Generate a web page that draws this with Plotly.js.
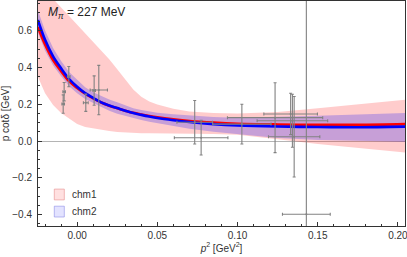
<!DOCTYPE html>
<html>
<head>
<meta charset="utf-8">
<script src="https://cdn.plot.ly/plotly-3.0.1.min.js"></script>
<style>html,body{margin:0;padding:0;background:#fff;}#chart{width:407px;height:257px;}</style>
</head>
<body>
<div id="chart"></div>
<script>
// p^2 grid (GeV^2)
const p2 = [-0.0245, -0.02, -0.015, -0.01, -0.005, 0, 0.005, 0.01, 0.015, 0.02, 0.025, 0.03, 0.035, 0.04, 0.045, 0.05, 0.06, 0.07, 0.085, 0.1, 0.125, 0.15, 0.175, 0.2045];
// chm1 central curve (red) and band
const chm1Mid = [0.62, 0.525, 0.44, 0.38, 0.325, 0.288, 0.257, 0.232, 0.209, 0.192, 0.178, 0.165, 0.153, 0.144, 0.136, 0.129, 0.118, 0.109, 0.1, 0.094, 0.09, 0.088, 0.088, 0.092];
const chm1Hi  = [0.865, 0.82, 0.775, 0.725, 0.68, 0.633, 0.588, 0.543, 0.495, 0.445, 0.39, 0.335, 0.28, 0.24, 0.215, 0.198, 0.175, 0.16, 0.152, 0.15, 0.158, 0.178, 0.198, 0.224];
const chm1Lo  = [0.35, 0.26, 0.196, 0.152, 0.12, 0.092, 0.076, 0.066, 0.06, 0.054, 0.049, 0.046, 0.043, 0.042, 0.042, 0.042, 0.042, 0.041, 0.038, 0.034, 0.01, -0.016, -0.038, -0.062];
// chm2 central curve (blue) and band
const chm2Mid = [0.658, 0.55, 0.46, 0.395, 0.337, 0.295, 0.26, 0.234, 0.21, 0.193, 0.179, 0.165, 0.152, 0.142, 0.133, 0.125, 0.113, 0.103, 0.092, 0.085, 0.079, 0.076, 0.075, 0.078];
const chm2Hi  = [0.71, 0.60, 0.505, 0.435, 0.375, 0.332, 0.292, 0.265, 0.245, 0.226, 0.21, 0.195, 0.178, 0.168, 0.16, 0.154, 0.145, 0.138, 0.131, 0.127, 0.13, 0.137, 0.144, 0.152];
const chm2Lo  = [0.59, 0.49, 0.41, 0.352, 0.298, 0.26, 0.228, 0.204, 0.185, 0.165, 0.148, 0.135, 0.124, 0.114, 0.104, 0.095, 0.08, 0.066, 0.05, 0.036, 0.017, 0.006, 0.0, -0.004];
// lattice data points
const dataX  = [-0.0081, -0.0087, -0.0052, 0.0054, 0.0106, 0.0135, 0.0733, 0.0773, 0.1027, 0.1234, 0.1331, 0.1342, 0.1353, 0.1429];
const dataY  = [0.268, 0.201, 0.35, 0.208, 0.274, 0.277, 0.102, 0.018, 0.092, 0.127, 0.147, 0.110, 0.023, -0.398];
const dataEx = [0.0008, 0.0008, 0.0008, 0.0015, 0.0008, 0.0054, 0.0111, 0.0167, 0.0182, 0.0297, 0.0167, 0.022, 0.016, 0.0149];
const dataEy = [0.05, 0.05, 0.055, 0.047, 0.08, 0.134, 0.118, 0.094, 0.108, 0.19, 0.1125, 0.144, 0.219, 1.3];
const xTicks = [0, 0.05, 0.10, 0.15, 0.20];
const xTickText = ["0.00", "0.05", "0.10", "0.15", "0.20"];
const yTicks = [-0.4, -0.2, 0, 0.2, 0.4, 0.6];
const yTickText = ["\u22120.4", "\u22120.2", "0.0", "0.2", "0.4", "0.6"];
const legendNames = ["chm1", "chm2"];

function band(hi, lo) {
  return {
    x: p2.concat(p2.slice().reverse()),
    y: hi.concat(lo.slice().reverse())
  };
}
const b1 = band(chm1Hi, chm1Lo);
const b2 = band(chm2Hi, chm2Lo);

const traces = [
  {x: b1.x, y: b1.y, type: 'scatter', mode: 'lines', fill: 'toself',
   fillcolor: 'rgba(255,0,0,0.2)', line: {width: 0}, hoverinfo: 'skip', showlegend: false},
  {x: b2.x, y: b2.y, type: 'scatter', mode: 'lines', fill: 'toself',
   fillcolor: 'rgba(0,0,255,0.22)', line: {width: 0}, hoverinfo: 'skip', showlegend: false},
  {x: p2, y: chm1Mid, type: 'scatter', mode: 'lines', line: {color: '#ff0000', width: 2.6, shape: 'spline'}, showlegend: false},
  {x: p2, y: chm2Mid, type: 'scatter', mode: 'lines', line: {color: '#0000ff', width: 2.6, shape: 'spline'}, showlegend: false},
  {x: dataX, y: dataY, type: 'scatter', mode: 'markers',
   marker: {size: 2, color: 'rgb(130,130,130)'},
   error_x: {type: 'data', array: dataEx, color: 'rgb(130,130,130)', thickness: 1.1, width: 1.5},
   error_y: {type: 'data', array: dataEy, color: 'rgb(130,130,130)', thickness: 1.1, width: 1.5},
   showlegend: false}
];

const layout = {
  width: 407, height: 257,
  margin: {l: 38, r: 2, t: 1, b: 31},
  paper_bgcolor: '#fff', plot_bgcolor: '#fff',
  font: {family: 'Liberation Sans, Arial, sans-serif', size: 10, color: '#333'},
  xaxis: {
    range: [-0.0244, 0.2044], showgrid: false, zeroline: false,
    showline: true, mirror: true, linecolor: '#333', linewidth: 1,
    ticks: 'inside', ticklen: 4, tickcolor: '#333', tickwidth: 1,
    tickvals: xTicks, ticktext: xTickText, ticklabeloverflow: 'allow',
    minor: {dtick: 0.01, tick0: 0, ticks: 'inside', ticklen: 2, tickcolor: '#333', showgrid: false},
    title: {text: '<i>p</i><sup>2</sup> [GeV<sup>2</sup>]', font: {size: 10, color: '#333'}, standoff: 4}
  },
  yaxis: {
    range: [-0.462, 0.761], showgrid: false,
    zeroline: true, zerolinecolor: '#b4b4b4', zerolinewidth: 1,
    showline: true, mirror: true, linecolor: '#333', linewidth: 1,
    ticks: 'inside', ticklen: 4, tickcolor: '#333', tickwidth: 1,
    tickvals: yTicks, ticktext: yTickText, ticklabelstandoff: 3,
    minor: {dtick: 0.05, tick0: 0, ticks: 'inside', ticklen: 2, tickcolor: '#333', showgrid: false},
    title: {text: 'p cot\u03b4 [GeV]', font: {size: 10, color: '#333'}, standoff: 7}
  },
  shapes: [
    {type: 'rect', xref: 'paper', yref: 'paper', x0: 0.0444, x1: 0.0717, y0: 0.116, y1: 0.164,
     fillcolor: 'rgba(255,0,0,0.12)', line: {color: 'rgba(230,140,140,0.6)', width: 1}},
    {type: 'rect', xref: 'paper', yref: 'paper', x0: 0.0444, x1: 0.0717, y0: 0.04, y1: 0.088,
     fillcolor: 'rgba(0,0,255,0.11)', line: {color: 'rgba(140,140,230,0.6)', width: 1}}
  ],
  annotations: [
    {xref: 'paper', yref: 'paper', x: 0.022, y: 0.945, xanchor: 'left', yanchor: 'middle', showarrow: false,
     text: '<i>M</i><sub><i>\u03c0</i></sub> = 227 MeV', font: {size: 12, color: '#222'}},
    {xref: 'paper', yref: 'paper', x: 0.087, y: 0.14, xanchor: 'left', yanchor: 'middle', showarrow: false,
     text: legendNames[0], font: {size: 10, color: '#333'}},
    {xref: 'paper', yref: 'paper', x: 0.087, y: 0.064, xanchor: 'left', yanchor: 'middle', showarrow: false,
     text: legendNames[1], font: {size: 10, color: '#333'}}
  ]
};

Plotly.newPlot('chart', traces, layout, {staticPlot: true, displayModeBar: false});
</script>
</body>
</html>
